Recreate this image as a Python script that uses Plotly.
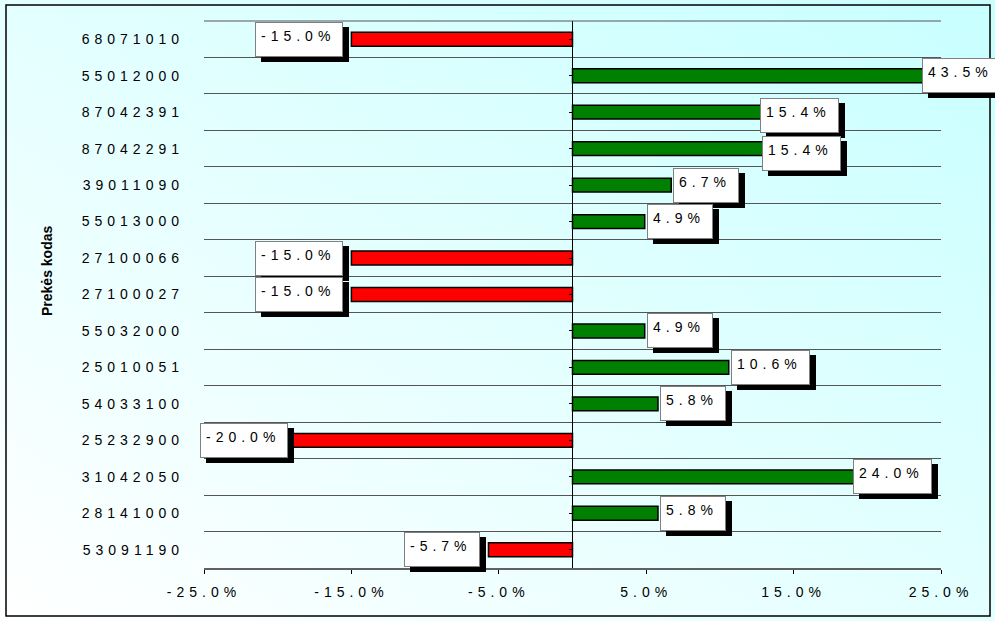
"""
Price change by goods code - horizontal bar chart in the old Excel style.
"""
import base64

import plotly.graph_objects as go

codes = [
    "68071010", "55012000", "87042391", "87042291", "39011090",
    "55013000", "27100066", "27100027", "55032000", "25010051",
    "54033100", "25232900", "31042050", "28141000", "53091190",
]
change_pct = [
    -15.0, 43.5, 15.4, 15.4, 6.7,
    4.9, -15.0, -15.0, 4.9, 10.6,
    5.8, -20.0, 24.0, 5.8, -5.7,
]
x_ticks = [-25, -15, -5, 5, 15, 25]
axis_title = "Prekės kodas"

# labels Excel moved by hand (pixel shifts x, y)
label_nudge = {
    "55012000": (-21, 0),
    "87042391": (-42, -3),
    "87042291": (-40, -5),
    "31042050": (-75, 0),
    "25232900": (18, 0),
}

W, H = 995, 621
L, R, T, B = 204, 54, 21, 53
PW, PH = W - L - R, H - T - B
FONT = "Arial, Liberation Sans, sans-serif"
SPACING = 5  # letter spacing used by the original
CHAR_W = {"-": 4.66, ".": 3.89, "%": 12.45}  # Arial 14px advance widths


def px(x):
    return (x - L) / PW


def py(y):
    return 1 - (y - T) / PH


def text_width(s):
    return sum(CHAR_W.get(c, 7.78) + SPACING for c in s)


colors = ["#FF0000" if v < 0 else "#008000" for v in change_pct]
y_range = [len(codes) - 0.5, -0.5]  # first code on top

fig = go.Figure()
fig.add_trace(go.Bar(
    x=change_pct, y=codes, orientation="h", width=0.38,
    marker=dict(color=colors, line=dict(color="black", width=1.5)),
    hoverinfo="x+y", showlegend=False,
))
# invisible trace so the tick marks on the zero line get drawn
fig.add_trace(go.Scatter(
    x=[0] * len(codes), y=codes, yaxis="y2", mode="markers",
    marker=dict(opacity=0), hoverinfo="skip", showlegend=False,
))

# axis title first: the css below spaces out every annotation after the first
annotations = [dict(
    x=px(47), y=py(271), xref="paper", yref="paper", text=f"<b>{axis_title}</b>",
    textangle=-90, showarrow=False, xanchor="center", yanchor="middle",
    font=dict(family=FONT, size=14, color="black"),
)]
for i, (code, v) in enumerate(zip(codes, change_pct)):
    text = f"{v:.1f}%"
    xv = max(min(v, x_ticks[-1]), x_ticks[0])
    if v >= 0:
        anchor, xs = "left", 2
    else:
        anchor, xs = "right", -8
    dx, dy = label_nudge.get(code, (0, 0))
    xs += dx
    for shadow in (True, False):
        # y as the category index: the codes look numeric to plotly
        annotations.append(dict(
            x=xv, y=i, xref="x", yref="y", text=" " if shadow else text,
            showarrow=False, xanchor=anchor, yanchor="middle",
            xshift=xs + (6 if shadow else 0), yshift=dy - (5 if shadow else 0),
            font=dict(family=FONT, size=14, color="black"),
            bgcolor="black" if shadow else "white",
            bordercolor="black" if shadow else "#808080", borderwidth=1,
            borderpad=5, width=round(text_width(text)) + 2, height=23,
            valign="top", align="left",
        ))

svg = (
    "<svg xmlns='http://www.w3.org/2000/svg' width='995' height='621'>"
    "<defs><linearGradient id='g' x1='0' y1='1' x2='1' y2='0'>"
    "<stop offset='0' stop-color='#FFFFFF'/><stop offset='1' stop-color='#C8FFFF'/>"
    "</linearGradient></defs><rect width='995' height='621' fill='url(#g)'/></svg>"
)
bg = "data:image/svg+xml;base64," + base64.b64encode(svg.encode()).decode()

fig.update_layout(
    width=W, height=H, margin=dict(l=L, r=R, t=T, b=B),
    paper_bgcolor="white", plot_bgcolor="rgba(0,0,0,0)",
    font=dict(family=FONT, size=14, color="black"),
    images=[dict(
        source=bg, xref="paper", yref="paper", x=px(0), y=py(0),
        sizex=W / PW, sizey=H / PH, sizing="stretch", layer="below",
        xanchor="left", yanchor="top",
    )],
    xaxis=dict(
        range=[x_ticks[0], x_ticks[-1]], tickvals=x_ticks,
        ticktext=[f"{t:.1f}%" for t in x_ticks],
        showgrid=False, zeroline=True, zerolinecolor="black", zerolinewidth=1,
        showline=True, linecolor="#606060", linewidth=1.5,
        ticks="outside", ticklen=4, tickcolor="black", ticklabelstandoff=6,
        fixedrange=True,
    ),
    yaxis=dict(
        type="category", categoryorder="array", categoryarray=codes,
        range=y_range,
        tickson="boundaries", ticks="", showgrid=True, gridcolor="#555555",
        gridwidth=1, zeroline=False, showline=False, ticklabelstandoff=19,
        fixedrange=True,
    ),
    yaxis2=dict(
        type="category", overlaying="y", anchor="free", position=0.5,
        categoryorder="array", categoryarray=codes, range=y_range,
        ticks="outside", ticklen=4, tickcolor="black", showticklabels=False,
        showgrid=False, zeroline=False, showline=False, fixedrange=True,
    ),
    shapes=[dict(
        type="rect", xref="paper", yref="paper",
        x0=px(6), x1=px(990), y0=py(616), y1=py(5),
        line=dict(color="black", width=1.5), layer="above",
    ), dict(
        type="line", xref="paper", yref="paper",
        x0=0, x1=1, y0=1, y1=1, line=dict(color="#555555", width=1),
    )],
    annotations=annotations,
)

# Excel spaced the characters out; plotly has no letter-spacing option
post = """
var st = document.createElement('style');
st.textContent = 'body {margin: 0;} .xtick text, .ytick text, '
  + '.annotation + .annotation text.annotation-text {letter-spacing: %dpx;}';
document.head.appendChild(st);
""" % SPACING

fig.write_html("out.html", config={"displayModeBar": False}, post_script=post)
